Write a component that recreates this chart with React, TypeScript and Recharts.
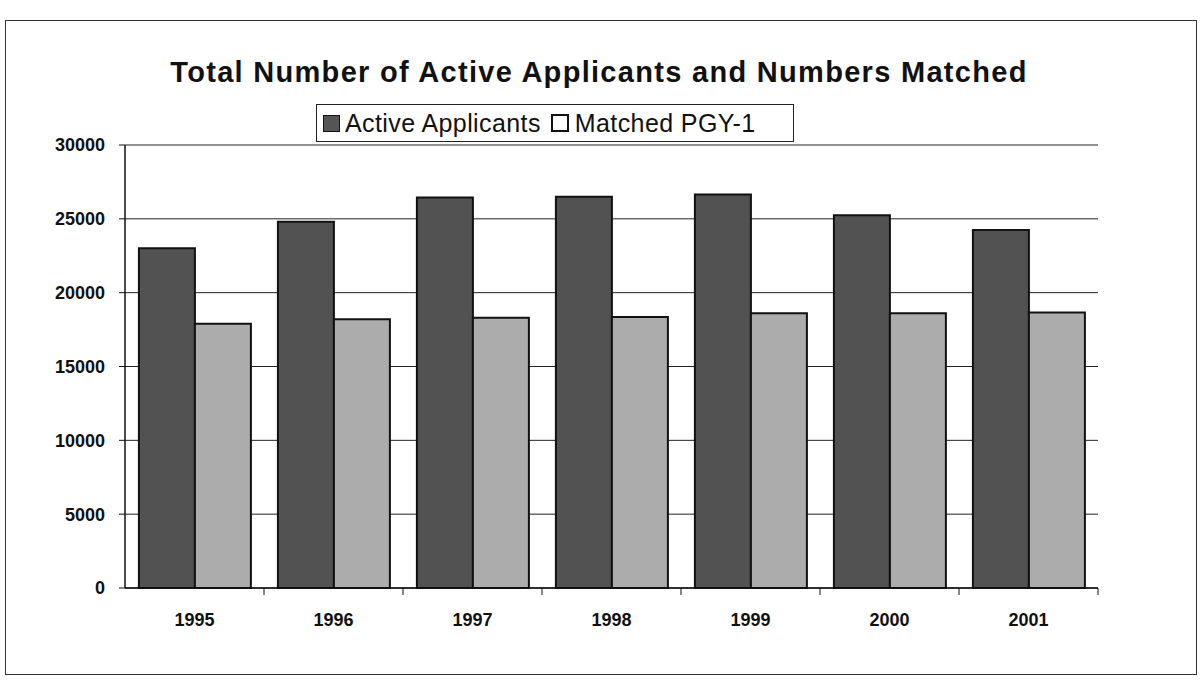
import React from 'react';
import { BarChart, Bar, XAxis, YAxis, CartesianGrid } from 'recharts';

const years = ['1995', '1996', '1997', '1998', '1999', '2000', '2001'];
const activeApplicants = [23000, 24800, 26450, 26500, 26650, 25250, 24250];
const matchedPgy1 = [17900, 18200, 18300, 18350, 18600, 18600, 18650];
const yTicks = [0, 5000, 10000, 15000, 20000, 25000, 30000];

const data = years.map((year, i) => ({
  year,
  active: activeApplicants[i],
  matched: matchedPgy1[i],
}));

const FONT = '"Liberation Sans", Arial, sans-serif';
const CHART_W = 1204;
const CHART_H = 692;
const MARGIN = { top: 145, right: 106, bottom: 54, left: 0 };
const Y_AXIS_W = 125;
const bandHalf = (CHART_W - MARGIN.left - MARGIN.right - Y_AXIS_W) / years.length / 2;

// Excel-style category tick: label in the middle, tick mark on the band edge
const YearTick = ({ x, y, payload }: any) => (
  <g>
    <line x1={x + bandHalf} x2={x + bandHalf} y1={y - 8} y2={y - 1} stroke="#111" />
    <text
      x={x}
      y={y + 30}
      textAnchor="middle"
      fontFamily={FONT}
      fontWeight="bold"
      fontSize={18}
      fill="#111"
    >
      {payload.value}
    </text>
  </g>
);

const LegendBox = () => (
  <div
    style={{
      position: 'absolute',
      left: 316,
      top: 104,
      width: 478,
      height: 38,
      border: '1.5px solid #222',
      boxSizing: 'border-box',
      display: 'flex',
      alignItems: 'center',
      paddingLeft: 6,
      fontFamily: FONT,
      fontSize: 25,
      letterSpacing: 0.4,
      color: '#111',
      background: '#fff',
      whiteSpace: 'nowrap',
    }}
  >
    <span style={{ width: 15, height: 15, background: '#555', border: '1px solid #111', marginRight: 5 }} />
    <span>Active Applicants</span>
    <span style={{ width: 14, height: 14, background: '#fff', border: '2px solid #111', marginLeft: 10, marginRight: 6 }} />
    <span>Matched PGY-1</span>
  </div>
);

export default function App() {
  return (
    <div style={{ position: 'absolute', left: 0, top: 0, width: CHART_W, height: CHART_H, background: '#fff' }}>
      <div
        style={{
          position: 'absolute',
          left: 5,
          top: 20,
          width: 1192,
          height: 655,
          border: '1.5px solid #333',
          boxSizing: 'border-box',
        }}
      />
      <div
        style={{
          position: 'absolute',
          left: 0,
          width: 1198,
          top: 56,
          textAlign: 'center',
          fontFamily: FONT,
          fontWeight: 'bold',
          fontSize: 29,
          letterSpacing: 1.3,
          color: '#111',
          whiteSpace: 'nowrap',
        }}
      >
        Total Number of Active Applicants and Numbers Matched
      </div>
      <div style={{ position: 'absolute', left: 0, top: 0 }}>
        <BarChart
          width={CHART_W}
          height={CHART_H}
          data={data}
          margin={MARGIN}
          barCategoryGap="10%"
          barGap={0}
        >
          <CartesianGrid vertical={false} stroke="#222" strokeWidth={1} />
          <XAxis
            dataKey="year"
            height={50}
            axisLine={{ stroke: '#111', strokeWidth: 1.5 }}
            tickLine={false}
            tick={<YearTick />}
          />
          <YAxis
            domain={[0, 30000]}
            ticks={yTicks}
            interval={0}
            axisLine={{ stroke: '#111', strokeWidth: 1.5 }}
            tickLine={{ stroke: '#111' }}
            tickSize={6}
            tickMargin={14}
            tick={{ fontFamily: FONT, fontWeight: 'bold', fontSize: 18, fill: '#111' }}
            width={Y_AXIS_W}
          />
          <Bar dataKey="active" name="Active Applicants" fill="#525252" stroke="#111" strokeWidth={2} isAnimationActive={false} />
          <Bar dataKey="matched" name="Matched PGY-1" fill="#acacac" stroke="#111" strokeWidth={2} isAnimationActive={false} />
        </BarChart>
      </div>
      <LegendBox />
    </div>
  );
}
